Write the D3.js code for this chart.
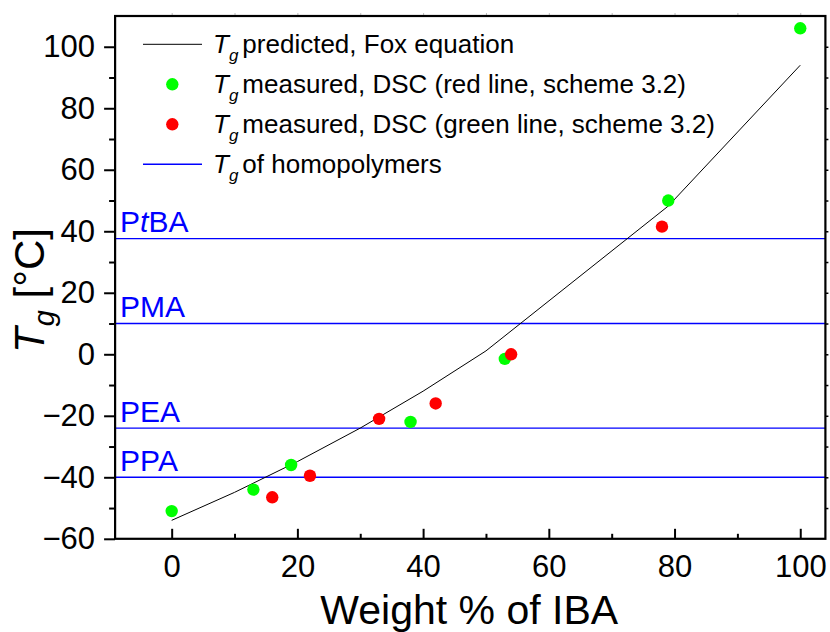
<!DOCTYPE html>
<html>
<head>
<meta charset="utf-8">
<script src="https://cdn.jsdelivr.net/npm/d3@7/dist/d3.min.js"></script>
<style>
  html, body { margin: 0; padding: 0; background: #fff; }
  svg { display: block; }
  text { font-family: "Liberation Sans", Arial, Helvetica, sans-serif; }
</style>
</head>
<body>
<svg id="chart" width="830" height="632"></svg>
<script>
// Glass transition temperature vs. IBA content
const xTicks = [0, 20, 40, 60, 80, 100];
const yTicks = [-60, -40, -20, 0, 20, 40, 60, 80, 100];

// Fox equation prediction
const foxW  = [0, 10, 20, 30, 40, 50, 79, 100];
const foxTg = [-54, -44.9, -34.9, -24.0, -12.0, 1.1, 48.2, 94];

// DSC measurements (red line, scheme 3.2) – green markers
const greenW  = [0, 13, 19, 38, 53, 79, 100];
const greenTg = [-51, -44, -36, -22, -1.5, 50, 106];

// DSC measurements (green line, scheme 3.2) – red markers
const redW  = [16, 22, 33, 42, 54, 78];
const redTg = [-46.5, -39.5, -21, -16, 0, 41.5];

// Homopolymer Tg reference lines
const homoNames = ["PtBA", "PMA", "PEA", "PPA"];
const homoTg    = [37.6, 10, -24, -40];

const svg = d3.select("#chart");
const x = d3.scaleLinear().domain([-9, 104]).range([115.1, 825.4]);
const y = d3.scaleLinear().domain([-60, 110]).range([538.8, 16]);
const pL = x.range()[0], pR = x.range()[1], pT = y.range()[1], pB = y.range()[0];

const tickFont = 31;

// Homopolymer lines and their labels
const homoG = svg.append("g");
homoTg.forEach((v, i) => {
  homoG.append("line")
    .attr("x1", pL).attr("x2", pR)
    .attr("y1", y(v)).attr("y2", y(v))
    .attr("stroke", "#0000ff").attr("stroke-width", 1.4);
  const t = homoG.append("text")
    .attr("x", pL + 5).attr("y", y(v) - 6.5)
    .attr("fill", "#0000ff").attr("font-size", 30);
  const name = homoNames[i];
  if (name === "PtBA") {
    t.append("tspan").text("P");
    t.append("tspan").attr("font-style", "italic").text("t");
    t.append("tspan").text("BA");
  } else {
    t.text(name);
  }
});

// Fox equation line
const foxData = foxW.map((w, i) => [w, foxTg[i]]);
svg.append("path")
  .datum(foxData)
  .attr("fill", "none").attr("stroke", "#000").attr("stroke-width", 1)
  .attr("d", d3.line().x(d => x(d[0])).y(d => y(d[1])));

// Measured points
svg.append("g").selectAll("circle")
  .data(greenW.map((w, i) => [w, greenTg[i]]))
  .join("circle")
  .attr("cx", d => x(d[0])).attr("cy", d => y(d[1])).attr("r", 6.2)
  .attr("fill", "#00ff00");
svg.append("g").selectAll("circle")
  .data(redW.map((w, i) => [w, redTg[i]]))
  .join("circle")
  .attr("cx", d => x(d[0])).attr("cy", d => y(d[1])).attr("r", 6.2)
  .attr("fill", "#ff0000");

// Left axis: major ticks labelled, minor ticks in between
const yMinor = d3.range(-50, 110, 20);
const axLeft = svg.append("g").attr("transform", `translate(${pL},0)`)
  .call(d3.axisLeft(y).tickValues(yTicks).tickSize(11).tickPadding(9).tickFormat(d3.format("d")));
axLeft.select(".domain").remove();
axLeft.selectAll("line").attr("stroke-width", 2);
axLeft.selectAll("text").attr("font-size", tickFont).attr("fill", "#000")
  .attr("font-family", "'Liberation Sans', Arial, sans-serif");
const axLeftMinor = svg.append("g").attr("transform", `translate(${pL},0)`)
  .call(d3.axisLeft(y).tickValues(yMinor).tickSize(6).tickFormat(""));
axLeftMinor.select(".domain").remove();
axLeftMinor.selectAll("line").attr("stroke-width", 2);

// Bottom axis: ticks pointing into the plot
const xMinor = d3.range(10, 101, 20);
const axBottom = svg.append("g").attr("transform", `translate(0,${pB})`)
  .call(d3.axisBottom(x).tickValues(xTicks).tickSize(-10).tickPadding(16).tickFormat(d3.format("d")));
axBottom.select(".domain").remove();
axBottom.selectAll("line").attr("stroke-width", 2);
axBottom.selectAll("text").attr("font-size", tickFont).attr("fill", "#000")
  .attr("font-family", "'Liberation Sans', Arial, sans-serif");
const axBottomMinor = svg.append("g").attr("transform", `translate(0,${pB})`)
  .call(d3.axisBottom(x).tickValues(xMinor).tickSize(-5).tickFormat(""));
axBottomMinor.select(".domain").remove();
axBottomMinor.selectAll("line").attr("stroke-width", 2);

// Top and right axes: small outward ticks
const axTop = svg.append("g").attr("transform", `translate(0,${pT})`)
  .call(d3.axisTop(x).tickValues(d3.range(0, 101, 10)).tickSize(3).tickFormat(""));
axTop.select(".domain").remove();
axTop.selectAll("line").attr("stroke", "#bbb").attr("stroke-width", 1);
const axRight = svg.append("g").attr("transform", `translate(${pR},0)`)
  .call(d3.axisRight(y).tickValues(d3.range(-50, 101, 10)).tickSize(3).tickFormat(""));
axRight.select(".domain").remove();
axRight.selectAll("line").attr("stroke", "#000").attr("stroke-width", 1.5);

// Frame
svg.append("rect")
  .attr("x", pL).attr("y", pT).attr("width", pR - pL).attr("height", pB - pT)
  .attr("fill", "none").attr("stroke", "#000").attr("stroke-width", 2.2);

// Axis titles
svg.append("text")
  .attr("x", (pL + pR) / 2 - 1).attr("y", 624)
  .attr("text-anchor", "middle").attr("font-size", 41).attr("fill", "#000")
  .text("Weight % of IBA");

const yt = svg.append("text")
  .attr("transform", "translate(44,353) rotate(-90)")
  .attr("font-size", 42).attr("fill", "#000");
yt.append("tspan").attr("font-style", "italic").text("T");
yt.append("tspan").attr("font-style", "italic").attr("font-size", 29).attr("dy", 10).attr("dx", 1).text("g");
yt.append("tspan").attr("dy", -10).text(" [°C]");

// Legend
const legRows = [
  { kind: "line", color: "#000", text: "predicted, Fox equation" },
  { kind: "dot", color: "#00ff00", text: "measured, DSC (red line, scheme 3.2)" },
  { kind: "dot", color: "#ff0000", text: "measured, DSC (green line, scheme 3.2)" },
  { kind: "line", color: "#0000ff", text: "of homopolymers" }
];
const leg = svg.append("g");
legRows.forEach((r, i) => {
  const base = 53.3 + i * 40;
  const cy = base - 9;
  if (r.kind === "line") {
    leg.append("line").attr("x1", 143).attr("x2", 202)
      .attr("y1", cy).attr("y2", cy)
      .attr("stroke", r.color).attr("stroke-width", r.color === "#000" ? 1 : 1.4);
  } else {
    leg.append("circle").attr("cx", 172.3).attr("cy", cy).attr("r", 6.2).attr("fill", r.color);
  }
  const t = leg.append("text").attr("x", 213).attr("y", base)
    .attr("font-size", 26).attr("fill", "#000");
  t.append("tspan").attr("font-style", "italic").text("T");
  t.append("tspan").attr("font-style", "italic").attr("font-size", 17)
    .attr("dy", 8).attr("dx", 0).text("g");
  t.append("tspan").attr("dy", -8).attr("dx", 4).text(r.text);
});
</script>
</body>
</html>
